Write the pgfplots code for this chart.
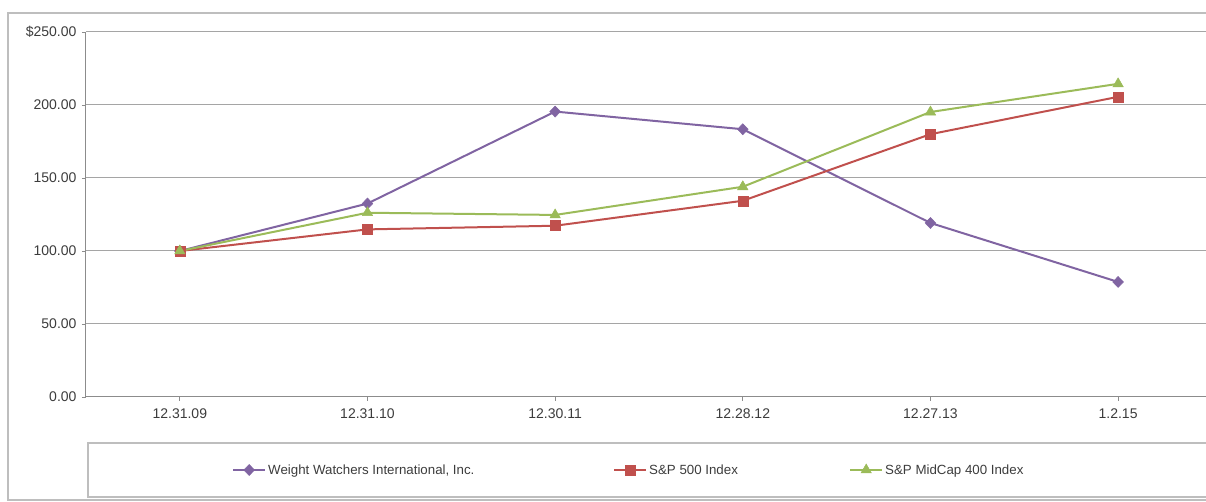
\documentclass[border=0pt]{standalone}
\usepackage{pgfplots}
\pgfplotsset{compat=1.18}
\usepackage{fontspec}
\setmainfont{Liberation Sans}

\definecolor{wwpurple}{RGB}{128,100,162}
\definecolor{spred}{RGB}{192,80,77}
\definecolor{midgreen}{RGB}{155,187,89}
\definecolor{axisgray}{RGB}{140,140,140}
\definecolor{gridgray}{RGB}{165,165,165}
\definecolor{framegray}{RGB}{190,190,190}
\definecolor{txt}{RGB}{60,60,60}

\begin{document}
\begin{tikzpicture}
  \useasboundingbox (-86pt,-105pt) rectangle (1120pt,397pt);

  % outer chart frame and legend box
  \draw[framegray, line width=1.2pt] (-78pt,-103pt) rectangle (1140pt,384pt);
  \draw[framegray, line width=1.6pt] (2pt,-100pt) rectangle (1140pt,-46pt);

  \begin{axis}[
    at={(0pt,0pt)}, anchor=south west,
    scale only axis,
    width=1126pt, height=365pt,
    xmin=-0.5, xmax=5.5,
    ymin=0, ymax=250,
    axis lines*=left,
    axis line style={axisgray, line width=1pt},
    xtick={0,1,2,3,4,5},
    xticklabels={12.31.09,12.31.10,12.30.11,12.28.12,12.27.13,1.2.15},
    ytick={0,50,100,150,200,250},
    yticklabels={0.00,50.00,100.00,150.00,200.00,\$250.00},
    ymajorgrids=true,
    grid style={gridgray, line width=1pt},
    tick align=outside,
    major tick length=4pt,
    tick style={axisgray, line width=0.8pt},
    ticklabel style={font=\fontsize{14}{16}\selectfont, text=txt},
    yticklabel style={xshift=-2pt},
    xticklabel style={yshift=-4pt},
    clip=false,
    legend columns=3,
    legend style={
      at={(143pt,-73pt)}, anchor=west,
      draw=none, fill=none,
      font=\fontsize{13.3}{15}\selectfont, text=txt,
      column sep=0pt,
      /tikz/every even column/.append style={column sep=3pt},
    },
    legend cell align=left,
    legend image code/.code={
      \draw[mark repeat=2, mark phase=2, #1]
        plot coordinates {(0pt,0pt) (16pt,0pt) (32pt,0pt)};
    },
  ]
    \addplot[wwpurple, line width=2pt, mark=diamond*, mark size=5.5pt,
             mark options={fill=wwpurple, draw=wwpurple, line width=0.5pt, xscale=1.3}]
      coordinates {(0,100) (1,132.5) (2,195.5) (3,183.4) (4,119.2) (5,78.8)};
    \addlegendentry{\makebox[340pt][l]{Weight Watchers International, Inc.}}

    \addplot[spred, line width=2pt, mark=square*, mark size=5pt,
             mark options={fill=spred, draw=spred, line width=0.5pt}]
      coordinates {(0,100) (1,114.8) (2,117.3) (3,134.4) (4,180.0) (5,205.6)};
    \addlegendentry{\makebox[195pt][l]{S\&P 500 Index}}

    \addplot[midgreen, line width=2pt, mark=triangle*, mark size=6pt,
             mark options={fill=midgreen, draw=midgreen, line width=0.5pt}]
      coordinates {(0,100) (1,126.2) (2,124.7) (3,144.0) (4,195.2) (5,214.5)};
    \addlegendentry{S\&P MidCap 400 Index}
  \end{axis}
\end{tikzpicture}
\end{document}
